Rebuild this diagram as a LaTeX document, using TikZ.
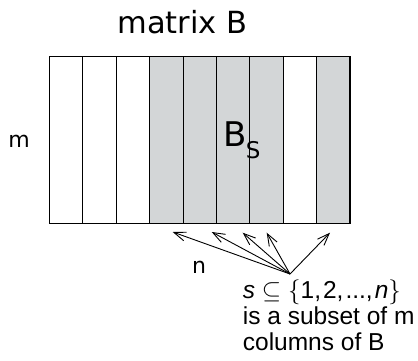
\documentclass[tikz,border=0pt]{standalone}
\usepackage{fontspec}
\setmainfont{Liberation Sans}
\newfontfamily\grandefont{DejaVu Sans}
\usetikzlibrary{arrows.meta}
\definecolor{colgray}{RGB}{211,214,215}

\begin{document}
\begin{tikzpicture}[x=1pt,y=-1pt,>={Straight Barb[length=12pt,width=9pt]}]
        \useasboundingbox (0,0) rectangle (418,360);
        % columns of B, the shaded ones form B_s
        \foreach \i/\c in {0/white,1/white,2/white,3/colgray,4/colgray,5/colgray,6/colgray,7/white,8/colgray}
            \draw[line width=1.1pt,fill=\c] (49.5+33.39*\i,56.7) rectangle ++(33.39,166.6);
        \node[anchor=base,inner sep=0,font=\grandefont\fontsize{30.5}{30.5}\selectfont] (title) at (182.5,33.3) {matrix B};
        \node[inner sep=0,font=\grandefont\fontsize{22}{22}\selectfont] (rows) at (19,141) {m};
        \node[anchor=base west,inner sep=0,font=\grandefont\fontsize{34}{34}\selectfont] (Bs) at (223.4,146.7) {B\kern-1pt\raisebox{-11.5pt}{\fontsize{23}{23}\selectfont S}};
        \node[inner sep=0,font=\grandefont\fontsize{22}{22}\selectfont] (cols) at (199,267.5) {n};
        \node[anchor=base west,align=left,inner sep=0,font=\fontsize{24.5}{26}\selectfont] (subset) at (242.7,350)
            {{\itshape s} $\subseteq\{$1,\kern2pt 2,\kern2pt ...,\kern2pt{\itshape n}$\}$\\is a subset of m\\columns of B};
        % arrows to the chosen columns
        \coordinate (src) at (290,274);
        \coordinate (t1) at (172.7,232);
        \coordinate (t2) at (211.7,232);
        \coordinate (t3) at (242.7,232.7);
        \coordinate (t4) at (266.7,232.7);
        \coordinate (t5) at (330,232.7);
        \foreach \t in {t1,t2,t3,t4,t5}
            \draw[->,line width=0.9pt] (src) -- (\t);
    \end{tikzpicture}
\end{document}
